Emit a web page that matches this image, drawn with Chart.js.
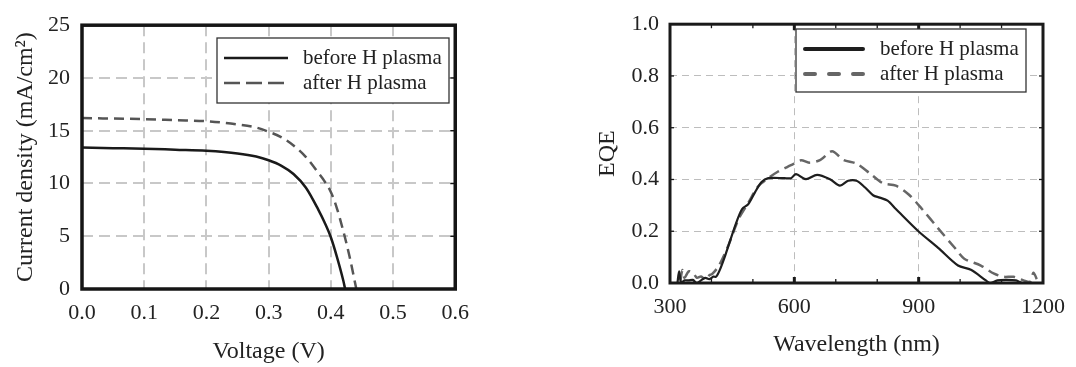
<!DOCTYPE html>
<html>
<head>
<meta charset="utf-8">
<script src="https://cdn.jsdelivr.net/npm/chart.js@4/dist/chart.umd.min.js"></script>
<style>
  html, body { margin: 0; padding: 0; background: #fff; }
  #wrap { position: relative; width: 1076px; height: 367px; }
  #c1 { position: absolute; left: 0; top: 0; }
  #c2 { position: absolute; left: 560px; top: 0; }
</style>
</head>
<body>
<div id="wrap">
  <canvas id="c1" width="480" height="367"></canvas>
  <canvas id="c2" width="516" height="367"></canvas>
</div>
<script>
// ---------- Data: J-V curves ----------
const seriesNames = ['before H plasma', 'after H plasma'];

const voltageBefore = [0, 0.05, 0.1, 0.15, 0.2, 0.25, 0.28, 0.3, 0.32, 0.34, 0.36, 0.38, 0.39, 0.40, 0.41, 0.42, 0.423];
const currentBefore = [13.4, 13.35, 13.3, 13.2, 13.1, 12.85, 12.55, 12.2, 11.7, 10.9, 9.6, 7.5, 6.3, 4.9, 3.0, 0.8, 0];

const voltageAfter = [0, 0.05, 0.1, 0.15, 0.2, 0.25, 0.28, 0.3, 0.32, 0.34, 0.36, 0.38, 0.39, 0.40, 0.41, 0.42, 0.43, 0.441];
const currentAfter = [16.2, 16.15, 16.1, 16.0, 15.9, 15.6, 15.3, 14.9, 14.4, 13.6, 12.5, 11.0, 10.2, 9.2, 7.6, 5.5, 3.1, 0];

const voltageTicks = [0, 0.1, 0.2, 0.3, 0.4, 0.5, 0.6];
const currentTicks = [0, 5, 10, 15, 20, 25];

// ---------- Data: EQE spectra ----------
const wavelengthBefore = [318, 322, 327, 335, 345, 355, 365, 375, 385, 395, 405, 411, 420, 434, 458, 474, 489, 505, 521, 537, 576, 592, 604, 628, 655, 687, 710, 730, 750, 770, 790, 806, 825, 845, 900, 947, 995, 1026, 1062, 1072, 1090, 1110, 1135, 1150, 1200];
const eqeBefore = [0.0, 0.045, 0.0, 0.01, 0.01, 0.012, 0.0, 0.01, 0.02, 0.015, 0.025, 0.024, 0.05, 0.11, 0.225, 0.286, 0.305, 0.35, 0.39, 0.405, 0.405, 0.405, 0.421, 0.401, 0.418, 0.40, 0.376, 0.395, 0.395, 0.37, 0.339, 0.33, 0.318, 0.286, 0.199, 0.136, 0.0675, 0.051, 0.01, 0.0, 0.01, 0.012, 0.01, 0.0, 0.0];

const wavelengthAfter = [325, 330, 335, 345, 355, 365, 375, 385, 395, 402, 418, 442, 466, 489, 513, 537, 560, 592, 616, 636, 663, 691, 718, 750, 782, 813, 845, 876, 908, 947, 987, 1010, 1050, 1082, 1105, 1129, 1153, 1169, 1177, 1185];
const eqeAfter = [0.01, 0.05, 0.02, 0.045, 0.04, 0.02, 0.025, 0.015, 0.03, 0.035, 0.067, 0.15, 0.249, 0.31, 0.374, 0.405, 0.43, 0.455, 0.474, 0.465, 0.476, 0.509, 0.476, 0.461, 0.424, 0.386, 0.376, 0.342, 0.286, 0.211, 0.136, 0.094, 0.0675, 0.036, 0.024, 0.024, 0.01, 0.005, 0.04, 0.015];

const wavelengthMajorTicks = [300, 600, 900, 1200];
const wavelengthMinorTicks = [400, 500, 700, 800, 1000, 1100];
const eqeTicks = [0, 0.2, 0.4, 0.6, 0.8, 1.0];

// ---------- helpers ----------
const SERIF = "'Liberation Serif', 'Times New Roman', serif";
const TXT = '#222';

function pts(xs, ys) { return xs.map((x, i) => ({ x: x, y: ys[i] })); }

const framePlugin = {
  id: 'frame',
  afterDatasetsDraw(chart, args, opts) {
    const { ctx, chartArea: a, scales } = chart;
    ctx.save();
    ctx.strokeStyle = opts.color;
    const tk = opts.ticks || {};
    ctx.lineWidth = tk.width || 1.5;
    (tk.yValues || []).forEach(v => {
      const y = scales.y.getPixelForValue(v);
      if (tk.right) { ctx.beginPath(); ctx.moveTo(a.right, y); ctx.lineTo(a.right - tk.len, y); ctx.stroke(); }
      if (tk.left) { ctx.beginPath(); ctx.moveTo(a.left, y); ctx.lineTo(a.left + tk.len, y); ctx.stroke(); }
    });
    (tk.xMinor || []).forEach(v => {
      const x = scales.x.getPixelForValue(v);
      ctx.beginPath(); ctx.moveTo(x, a.bottom); ctx.lineTo(x, a.bottom - tk.len); ctx.stroke();
      ctx.beginPath(); ctx.moveTo(x, a.top); ctx.lineTo(x, a.top + tk.len); ctx.stroke();
    });
    ctx.lineWidth = tk.majorWidth || 3;
    (tk.xMajor || []).forEach(v => {
      const x = scales.x.getPixelForValue(v);
      ctx.beginPath(); ctx.moveTo(x, a.bottom); ctx.lineTo(x, a.bottom - tk.majorLen); ctx.stroke();
      ctx.beginPath(); ctx.moveTo(x, a.top); ctx.lineTo(x, a.top + tk.majorLen); ctx.stroke();
    });
    ctx.lineWidth = opts.width;
    ctx.strokeRect(a.left, a.top, a.right - a.left, a.bottom - a.top);
    ctx.restore();
  }
};

const legendPlugin = {
  id: 'boxLegend',
  afterDatasetsDraw(chart, args, o) {
    const ctx = chart.ctx;
    ctx.save();
    ctx.fillStyle = '#fff';
    ctx.fillRect(o.x, o.y, o.w, o.h);
    ctx.strokeStyle = '#333';
    ctx.lineWidth = 1.3;
    ctx.strokeRect(o.x, o.y, o.w, o.h);
    chart.data.datasets.forEach((ds, i) => {
      const yy = o.rows[i];
      ctx.strokeStyle = ds.borderColor;
      ctx.lineWidth = o.lineWidth;
      ctx.lineCap = o.cap;
      ctx.setLineDash(ds.borderDash && ds.borderDash.length ? o.dash : []);
      ctx.beginPath(); ctx.moveTo(o.lx1, yy); ctx.lineTo(o.lx2, yy); ctx.stroke();
      ctx.setLineDash([]);
      ctx.fillStyle = TXT;
      ctx.font = o.fontSize + 'px ' + SERIF;
      ctx.textBaseline = 'middle';
      ctx.textAlign = 'left';
      ctx.fillText(ds.label, o.tx, yy);
    });
    ctx.restore();
  }
};

// ---------- Left chart: J-V ----------
new Chart(document.getElementById('c1'), {
  type: 'scatter',
  data: {
    datasets: [
      { label: seriesNames[0], data: pts(voltageBefore, currentBefore), showLine: true, pointRadius: 0,
        borderColor: '#1a1a1a', borderWidth: 2.5, cubicInterpolationMode: 'monotone' },
      { label: seriesNames[1], data: pts(voltageAfter, currentAfter), showLine: true, pointRadius: 0,
        borderColor: '#555', borderWidth: 2.5, borderDash: [10, 6], cubicInterpolationMode: 'monotone' }
    ]
  },
  options: {
    responsive: false, animation: false, events: [],
    layout: { padding: { left: 0, right: 18, top: 23, bottom: 0 } },
    plugins: {
      legend: { display: false }, tooltip: { enabled: false },
      frame: { color: '#151515', width: 3.5, ticks: { right: true, len: 5, width: 1.5, yValues: currentTicks.slice(1, -1) } },
      boxLegend: { x: 217, y: 38, w: 232, h: 65, rows: [58, 83], lx1: 224, lx2: 288, tx: 303, fontSize: 21,
                   lineWidth: 2.5, cap: 'butt', dash: [16, 6] }
    },
    scales: {
      x: {
        type: 'linear', min: 0, max: 0.6,
        afterBuildTicks: s => { s.ticks = voltageTicks.map(v => ({ value: v })); },
        afterFit: s => { s.height = 78; },
        ticks: { font: { family: SERIF, size: 22 }, color: TXT, padding: 11, callback: v => v.toFixed(1), maxRotation: 0 },
        grid: { color: '#c8c8c8', lineWidth: 2, drawTicks: false },
        border: { display: false, dash: [11, 6] },
        title: { display: true, text: 'Voltage (V)', font: { family: SERIF, size: 24 }, color: TXT, padding: { top: 0, bottom: 1 } }
      },
      y: {
        type: 'linear', min: 0, max: 25,
        afterBuildTicks: s => { s.ticks = currentTicks.map(v => ({ value: v })); },
        afterFit: s => { s.width = 82; },
        ticks: { font: { family: SERIF, size: 22 }, color: TXT, padding: 12 },
        grid: { color: '#c8c8c8', lineWidth: 2, drawTicks: false },
        border: { display: false, dash: [11, 6] },
        title: { display: true, text: 'Current density (mA/cm²)', font: { family: SERIF, size: 24 }, color: TXT, padding: { top: 11, bottom: 0 } }
      }
    }
  },
  plugins: [framePlugin, legendPlugin]
});

// ---------- Right chart: EQE ----------
new Chart(document.getElementById('c2'), {
  type: 'scatter',
  data: {
    datasets: [
      { label: seriesNames[0], data: pts(wavelengthBefore, eqeBefore), showLine: true, pointRadius: 0,
        borderColor: '#1e1e1e', borderWidth: 2.2, tension: 0.3 },
      { label: seriesNames[1], data: pts(wavelengthAfter, eqeAfter), showLine: true, pointRadius: 0,
        borderColor: '#666', borderWidth: 2.5, borderDash: [11, 6], tension: 0.3 }
    ]
  },
  options: {
    responsive: false, animation: false, events: [],
    layout: { padding: { left: 0, right: 26, top: 16, bottom: 0 } },
    plugins: {
      legend: { display: false }, tooltip: { enabled: false },
      frame: { color: '#1a1a1a', width: 3, ticks: { left: true, right: true, len: 4, width: 1.3,
               yValues: eqeTicks.slice(1, -1), xMinor: wavelengthMinorTicks, xMajor: [600, 900], majorLen: 6, majorWidth: 3 } },
      boxLegend: { x: 236, y: 29, w: 230, h: 63, rows: [49, 74], lx1: 245, lx2: 303, tx: 320, fontSize: 21,
                   lineWidth: 4, cap: 'round', dash: [10, 14] }
    },
    scales: {
      x: {
        type: 'linear', min: 300, max: 1200,
        afterBuildTicks: s => { s.ticks = wavelengthMajorTicks.map(v => ({ value: v })); },
        afterFit: s => { s.height = 84; },
        ticks: { font: { family: SERIF, size: 22 }, color: TXT, padding: 11, maxRotation: 0, callback: v => String(v) },
        grid: { color: '#bdbdbd', lineWidth: 1, drawTicks: false },
        border: { display: false, dash: [7, 5] },
        title: { display: true, text: 'Wavelength (nm)', font: { family: SERIF, size: 24 }, color: TXT, padding: { top: 0, bottom: 8 } }
      },
      y: {
        type: 'linear', min: 0, max: 1,
        afterBuildTicks: s => { s.ticks = eqeTicks.map(v => ({ value: v })); },
        afterFit: s => { s.width = 110; },
        ticks: { font: { family: SERIF, size: 22 }, color: TXT, padding: 11, callback: v => v.toFixed(1) },
        grid: { color: '#bdbdbd', lineWidth: 1, drawTicks: false },
        border: { display: false, dash: [7, 5] },
        title: { display: true, text: 'EQE', font: { family: SERIF, size: 24 }, color: TXT, padding: { top: 33, bottom: 0 } }
      }
    }
  },
  plugins: [framePlugin, legendPlugin]
});
</script>
</body>
</html>
